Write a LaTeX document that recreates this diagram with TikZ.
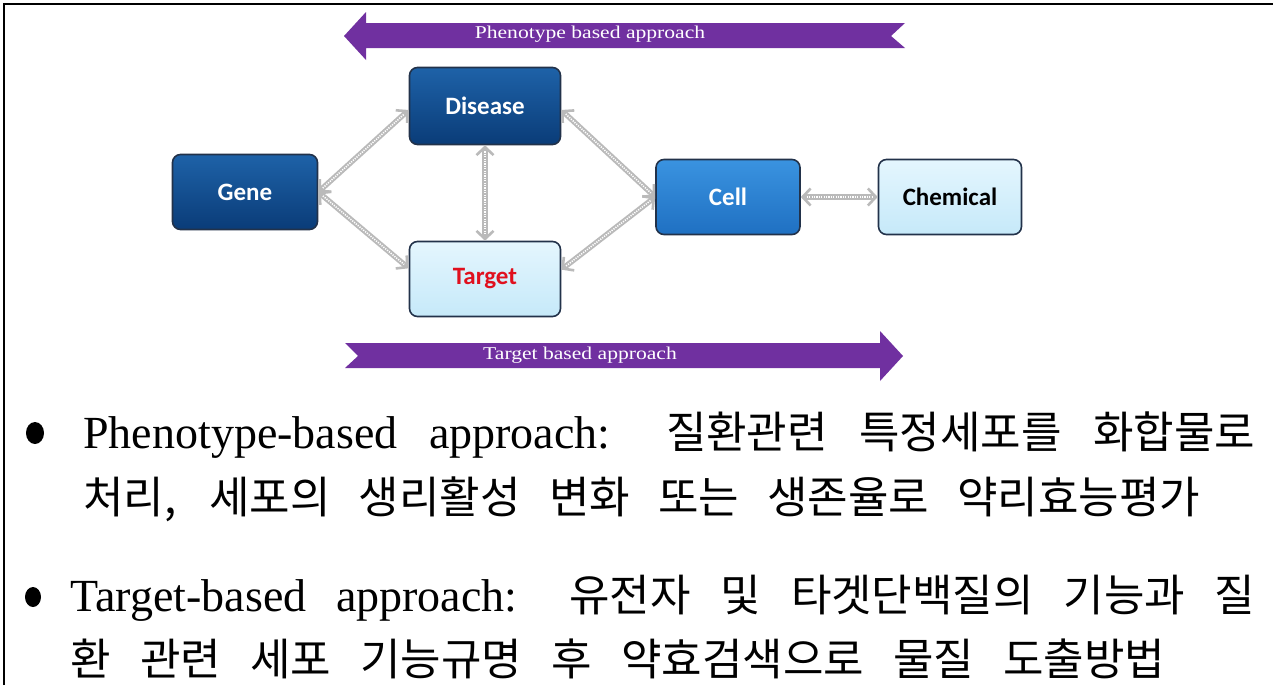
\documentclass[tikz,border=0pt]{standalone}
\usepackage{fontspec}
\setmainfont{Liberation Serif}
\newfontfamily\kr{Noto Sans CJK KR}
\newfontfamily\nodefont{Carlito}
\usetikzlibrary{arrows.meta,shapes.geometric}
\definecolor{purp}{HTML}{7030A0}
\definecolor{dkA}{HTML}{1E62A8}
\definecolor{dkB}{HTML}{0A3C78}
\definecolor{mdA}{HTML}{3A93E0}
\definecolor{mdB}{HTML}{1F70C2}
\definecolor{ltA}{HTML}{E4F6FE}
\definecolor{ltB}{HTML}{C6E9F9}
\definecolor{bord}{HTML}{22324A}
\definecolor{tred}{HTML}{E0101E}
\tikzset{
  box/.style={rectangle, rounded corners=4pt, draw=bord, line width=0.8pt,
    minimum width=72.5pt, minimum height=37.5pt, inner sep=0pt,
    font=\nodefont\bfseries\fontsize{12.5}{14}\selectfont},
  darkbox/.style={box, top color=dkA, bottom color=dkB, text=white},
  midbox/.style={box, top color=mdA, bottom color=mdB, text=white},
  lightbox/.style={box, top color=ltA, bottom color=ltB},
  connout/.style={draw=black!27, line width=2.7pt,
    {Straight Barb[length=4pt,width=8.5pt,line width=1.3pt]}-{Straight Barb[length=4pt,width=8.5pt,line width=1.3pt]}},
  connin/.style={draw=white, line width=0.8pt, dash pattern=on 0.6pt off 0.6pt, shorten <=3pt, shorten >=3pt},
  banner/.style={fill=purp},
  bannertext/.style={text=white, inner sep=0pt, font=\fontsize{9}{10}\selectfont},
  body/.style={anchor=base west, inner sep=0pt, font=\fontsize{23}{26}\selectfont},
  bullet/.style={ellipse, fill=black, inner sep=0pt}
}
\newcommand{\conn}[2]{\draw[connout] (#1) -- (#2); \draw[connin] (#1) -- (#2);}
\begin{document}
\begin{tikzpicture}[x=0.5pt,y=-0.5pt]
\useasboundingbox (0,0) rectangle (1273,685);
\fill[white] (0,0) rectangle (1273,685);
% frame
\draw[line width=1pt] (4,685) -- (4,4) -- (1273,4);
% banners
\fill[banner] (344,36) -- (366,12) -- (366,23) -- (905,23) -- (891,36) -- (905,48) -- (366,48) -- (366,60) -- cycle;
\node[bannertext] (ptext) at (590,34) {\scalebox{1.2}[1]{Phenotype based approach}};
\fill[banner] (345,343) -- (880,343) -- (880,331) -- (903,356) -- (880,381) -- (880,368) -- (345,368) -- (358,356) -- cycle;
\node[bannertext] (ttext) at (580,355) {\scalebox{1.2}[1]{Target based approach}};
% nodes
\node[darkbox] (gene) at (245,192) {Gene};
\node[darkbox, minimum width=75.5pt, minimum height=38.5pt] (disease) at (485,106) {Disease};
\node[lightbox, minimum width=75.5pt, text=tred] (target) at (485,279) {Target};
\node[midbox, minimum width=72pt] (cell) at (728,197) {Cell};
\node[lightbox, minimum width=71.5pt] (chem) at (950,197) {Chemical};
% connectors
\conn{gene.east}{disease.183}
\conn{gene.east}{target.172}
\conn{disease.south}{target.north}
\conn{disease.357}{cell.west}
\conn{target.7}{cell.west}
\conn{cell.east}{chem.west}
% text
\node[bullet, minimum width=9pt, minimum height=11pt] (b1) at (35,433) {};
\node[body] (l1) at (83,448) {\makebox[586pt][s]{Phenotype-based approach: {\kr\fontsize{22}{26}\selectfont 질환관련} {\kr\fontsize{22}{26}\selectfont 특정세포를} {\kr\fontsize{22}{26}\selectfont 화합물로}}};
\node[body] (l2) at (83,513) {\makebox[558.5pt][s]{\kr\fontsize{22}{26}\selectfont 처리, 세포의 생리활성 변화 또는 생존율로 약리효능평가}};
\node[bullet, minimum width=8pt, minimum height=10pt] (b2) at (33,597) {};
\node[body] (l3) at (70,611) {\makebox[592.5pt][s]{Target-based approach: {\kr\fontsize{22}{26}\selectfont 유전자} {\kr\fontsize{22}{26}\selectfont 및} {\kr\fontsize{22}{26}\selectfont 타겟단백질의} {\kr\fontsize{22}{26}\selectfont 기능과} {\kr\fontsize{22}{26}\selectfont 질}}};
\node[body] (l4) at (70,675) {\makebox[547.5pt][s]{\kr\fontsize{22}{26}\selectfont 환 관련 세포 기능규명 후 약효검색으로 물질 도출방법}};
\end{tikzpicture}
\end{document}
